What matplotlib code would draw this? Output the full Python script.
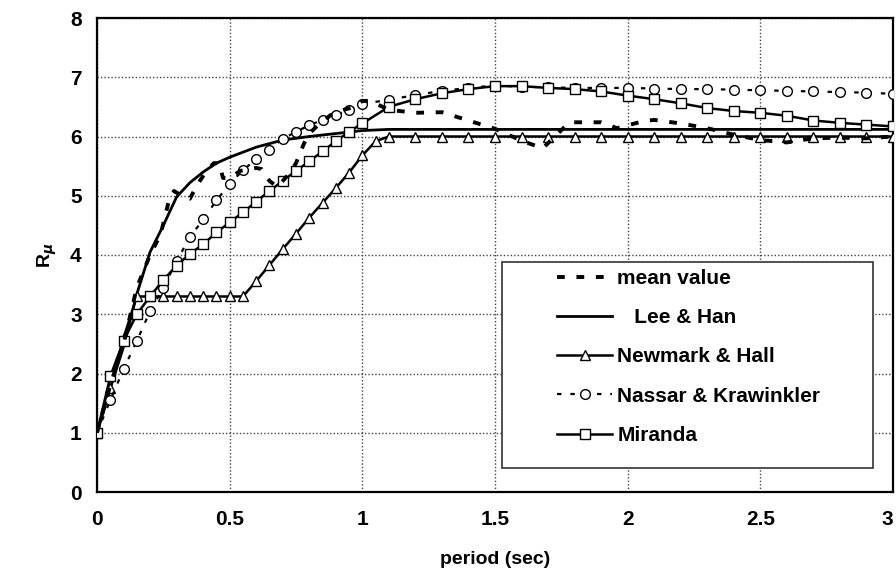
import matplotlib
matplotlib.use("Agg")
import matplotlib.pyplot as plt
from matplotlib.patches import Rectangle

plt.rcParams['font.family'] = ['Liberation Sans', 'DejaVu Sans']
plt.rcParams['font.weight'] = 'bold'
plt.rcParams['mathtext.default'] = 'it'

# ---- data: strength reduction factor R_mu vs period T (sec) ----
mean_T = [0.0, 0.05, 0.1, 0.15, 0.2, 0.24, 0.27, 0.29, 0.32, 0.35, 0.38, 0.41, 0.44,
          0.46, 0.475, 0.5, 0.54, 0.6, 0.62, 0.65, 0.68, 0.72, 0.75, 0.78, 0.8,
          0.84, 0.88, 0.93, 0.97, 1.0, 1.03, 1.1, 1.2, 1.3, 1.4, 1.5, 1.6, 1.68,
          1.78, 1.9, 1.96, 2.06, 2.1, 2.2, 2.3, 2.4, 2.5, 2.6, 2.7, 2.8, 2.9, 3.0]
mean_R = [1.0, 1.8, 2.5, 3.45, 4.0, 4.35, 4.9, 5.08, 5.0, 4.95, 5.2, 5.4, 5.55,
          5.55, 5.3, 5.3, 5.42, 5.47, 5.45, 5.25, 5.15, 5.35, 5.55, 5.88, 6.05,
          6.22, 6.36, 6.45, 6.5, 6.6, 6.6, 6.45, 6.4, 6.41, 6.27, 6.13, 5.93, 5.8,
          6.24, 6.24, 6.14, 6.26, 6.28, 6.22, 6.14, 6.03, 5.94, 5.9, 5.97, 5.98, 5.97, 6.0]

lee_T = [0.0, 0.05, 0.1, 0.15, 0.2, 0.25, 0.3, 0.35, 0.4, 0.45, 0.5, 0.6, 0.7,
         0.8, 0.9, 1.0, 1.1, 1.2, 3.0]
lee_R = [1.0, 1.75, 2.45, 3.34, 4.05, 4.5, 4.98, 5.22, 5.4, 5.55, 5.65, 5.82, 5.94,
         6.0, 6.05, 6.1, 6.12, 6.12, 6.12]

nh_T = [0.0, 0.05, 0.1, 0.15, 0.2, 0.25, 0.3, 0.35, 0.4, 0.45, 0.5, 0.55,
        0.6, 0.65, 0.7, 0.75, 0.8, 0.85, 0.9, 0.95, 1.0, 1.05, 1.1, 1.2, 1.3,
        1.4, 1.5, 1.6, 1.7, 1.8, 1.9, 2.0, 2.1, 2.2, 2.3, 2.4, 2.5, 2.6, 2.7,
        2.8, 2.9, 3.0]
nh_R = [1.0, 1.75, 2.6, 3.3, 3.3, 3.3, 3.3, 3.3, 3.3, 3.3, 3.3, 3.3,
        3.56, 3.83, 4.1, 4.36, 4.63, 4.88, 5.13, 5.39, 5.68, 5.92, 6.0, 6.0, 6.0,
        6.0, 6.0, 6.0, 6.0, 6.0, 6.0, 6.0, 6.0, 6.0, 6.0, 6.0, 6.0, 6.0, 6.0,
        6.0, 6.0, 6.0]

nk_T = [0.0, 0.05, 0.1, 0.15, 0.2, 0.25, 0.3, 0.35, 0.4, 0.45, 0.5, 0.55, 0.6,
        0.65, 0.7, 0.75, 0.8, 0.85, 0.9, 0.95, 1.0, 1.1, 1.2, 1.3, 1.4, 1.5,
        1.6, 1.7, 1.8, 1.9, 2.0, 2.1, 2.2, 2.3, 2.4, 2.5, 2.6, 2.7, 2.8, 2.9, 3.0]
nk_R = [1.0, 1.55, 2.07, 2.55, 3.05, 3.45, 3.9, 4.3, 4.6, 4.92, 5.2, 5.43, 5.62,
        5.78, 5.96, 6.08, 6.19, 6.28, 6.36, 6.45, 6.55, 6.62, 6.7, 6.77, 6.82, 6.86,
        6.84, 6.83, 6.82, 6.82, 6.82, 6.81, 6.8, 6.8, 6.79, 6.78, 6.77, 6.76, 6.75, 6.74, 6.72]

mir_T = [0.0, 0.05, 0.1, 0.15, 0.2, 0.25, 0.3, 0.35, 0.4, 0.45, 0.5, 0.55, 0.6,
         0.65, 0.7, 0.75, 0.8, 0.85, 0.9, 0.95, 1.0, 1.1, 1.2, 1.3, 1.4, 1.5,
         1.6, 1.7, 1.8, 1.9, 2.0, 2.1, 2.2, 2.3, 2.4, 2.5, 2.6, 2.7, 2.8, 2.9, 3.0]
mir_R = [1.0, 1.95, 2.55, 3.0, 3.3, 3.58, 3.82, 4.02, 4.18, 4.38, 4.55, 4.72, 4.9,
         5.08, 5.25, 5.42, 5.58, 5.75, 5.92, 6.08, 6.22, 6.5, 6.63, 6.73, 6.8, 6.85,
         6.85, 6.82, 6.8, 6.76, 6.69, 6.63, 6.56, 6.48, 6.43, 6.4, 6.35, 6.27, 6.23, 6.2, 6.17]

x_ticks = [0, 0.5, 1, 1.5, 2, 2.5, 3]
x_tick_labels = ['0', '0.5', '1', '1.5', '2', '2.5', '3']
y_ticks = [0, 1, 2, 3, 4, 5, 6, 7, 8]

series_labels = ['mean value', '   Lee & Han', 'Newmark & Hall',
                 'Nassar & Krawinkler', 'Miranda']

# ---- figure ----
fig = plt.figure(figsize=(8.96, 5.73), dpi=100)
ax = fig.add_axes([97/896, 1 - 492/573, 796/896, 474/573])

mk = dict(markerfacecolor='white', markeredgecolor='black', markeredgewidth=1.0)

l_mean, = ax.plot(mean_T, mean_R, color='black', lw=2.8, dashes=(2.0, 3.0),
                  solid_capstyle='butt', zorder=4)
l_lee, = ax.plot(lee_T, lee_R, color='black', lw=2.0, zorder=3)
l_nh, = ax.plot(nh_T, nh_R, color='black', lw=1.8, marker='^', markersize=6.5, zorder=3, **mk)
l_nk, = ax.plot(nk_T, nk_R, color='black', lw=1.6, dashes=(2.0, 4.0), marker='o',
                markersize=7, zorder=3, **mk)
l_mir, = ax.plot(mir_T, mir_R, color='black', lw=1.8, marker='s', markersize=6.5, zorder=3, **mk)

ax.set_xlim(0, 3)
ax.set_ylim(0, 8)
ax.set_xticks(x_ticks)
ax.set_xticklabels(x_tick_labels)
ax.set_yticks(y_ticks)
ax.tick_params(length=0, labelsize=15)
ax.tick_params(axis='x', pad=13)
ax.tick_params(axis='y', pad=11)
for lab in ax.get_xticklabels() + ax.get_yticklabels():
    lab.set_fontweight('bold')
# keep the last period label inside the canvas
ax.get_xticklabels()[-1].set_horizontalalignment('right')

ax.grid(True, color='#444444', lw=1.0, linestyle=(0, (1, 1.5)))
ax.set_axisbelow(True)
for sp in ax.spines.values():
    sp.set_linewidth(1.6)
    sp.set_color('black')

ax.set_xlabel('period (sec)', fontsize=14, fontweight='bold', labelpad=16)
ax.set_ylabel(r'R$_{\mu}$', fontsize=14, fontweight='bold', labelpad=8)

# legend box
box = Rectangle((502/896, 1 - 468/573), 371/896, 206/573, transform=fig.transFigure,
                facecolor='white', edgecolor='#333333', lw=1.2, zorder=5)
fig.add_artist(box)
leg = fig.legend([l_mean, l_lee, l_nh, l_nk, l_mir], series_labels,
                 loc='upper left', bbox_to_anchor=(557/896, 1 - 269/573),
                 frameon=False, fontsize=15, handlelength=2.65, handletextpad=0.25,
                 labelspacing=0.97, borderpad=0, borderaxespad=0)
leg.set_zorder(6)
for t in leg.get_texts():
    t.set_fontweight('bold')

fig.savefig('out.png', dpi=100)
